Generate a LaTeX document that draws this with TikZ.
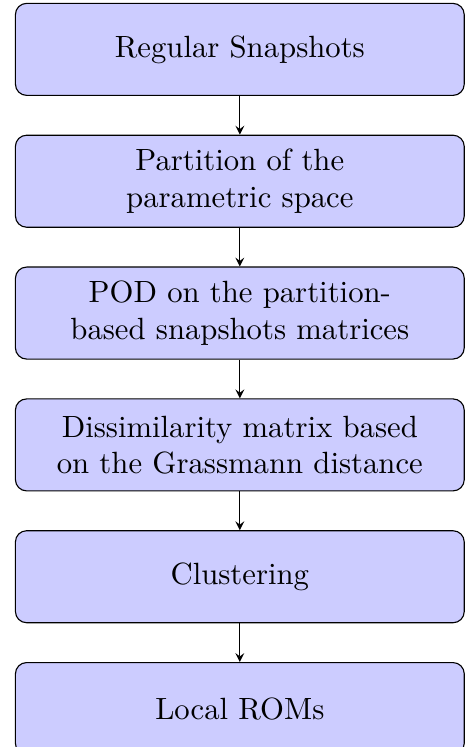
\documentclass[tikz,border=0pt]{standalone}
\usepackage{amsmath}
\usepackage{xcolor}
\usepackage{tikz}
\usetikzlibrary{positioning}

\tikzset{
  stage/.style={draw, fill=blue!20, rounded corners=4pt, align=center,
    font=\fontsize{10.95}{12.9}\selectfont,
    minimum width=160pt, minimum height=32.8pt, inner sep=3pt}
}

\begin{document}
\begin{tikzpicture}[>=stealth, node distance=13.8pt]
            \useasboundingbox (0, 0) rectangle (167.2pt, -266.3pt);

            \node[stage] (r1) at (85.5pt, -17.6pt) {Regular Snapshots};
            \node[stage, below=of r1] (r2) {Partition of the\\parametric space};
            \node[stage, below=of r2] (r3) {POD on the partition-\\based snapshots matrices};
            \node[stage, below=of r3] (r4) {Dissimilarity matrix based\\on the Grassmann distance};
            \node[stage, below=of r4] (r5) {Clustering};
            \node[stage, below=of r5] (r6) {Local ROMs};

            \draw[->] (r1) edge (r2);
            \draw[->] (r2) edge (r3);
            \draw[->] (r3) edge (r4);
            \draw[->] (r4) edge (r5);
            \draw[->] (r5) edge (r6);
        \end{tikzpicture}
\end{document}
